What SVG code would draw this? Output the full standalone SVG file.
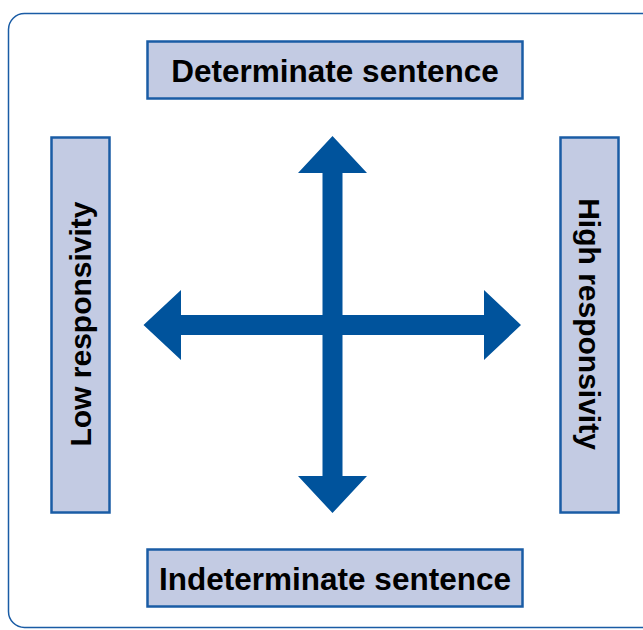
<svg xmlns="http://www.w3.org/2000/svg" width="643" height="630" viewBox="0 0 643 630">
<style>
.box{fill:#C3CBE3;stroke:#1A5CA5;stroke-width:2.5}
.lbl{font-family:"Liberation Sans",Arial,sans-serif;font-weight:bold;font-size:30px;fill:#000;text-anchor:middle}
.big{font-size:31.5px}
.arr{fill:#00539C}
</style>
<rect x="8.5" y="13.5" width="720" height="614" rx="16" fill="#fff" stroke="#1A5CA5" stroke-width="1.5"/>
<g id="connectors">
<path class="arr" d="M332.5 136 L367 173 L342.5 173 L342.5 315 L484 315 L484 290 L521 325 L484 360 L484 335 L342.5 335 L342.5 476 L367 476 L332.5 513 L298 476 L322.5 476 L322.5 335 L181 335 L181 360 L143.5 325 L181 290 L181 315 L322.5 315 L322.5 173 L298 173 Z"/>
</g>
<g id="determinate">
<rect class="box" x="147.5" y="41.5" width="375" height="57"/>
<text class="lbl big" x="335" y="82">Determinate sentence</text>
</g>
<g id="indeterminate">
<rect class="box" x="147.5" y="549.5" width="375" height="57"/>
<text class="lbl big" x="335" y="590">Indeterminate sentence</text>
</g>
<g id="low">
<rect class="box" x="51.5" y="137.5" width="58" height="375"/>
<text class="lbl" transform="translate(91,324) rotate(-90)">Low responsivity</text>
</g>
<g id="high">
<rect class="box" x="560.5" y="137.5" width="58" height="375"/>
<text class="lbl" transform="translate(579,324) rotate(90)">High responsivity</text>
</g>
</svg>
